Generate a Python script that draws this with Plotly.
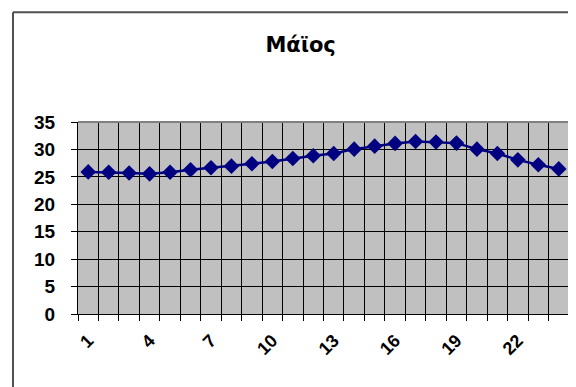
import plotly.graph_objects as go

days = [str(i) for i in range(1, 25)]
temps = [25.9, 25.85, 25.7, 25.55, 25.85, 26.3, 26.65, 26.95, 27.4, 27.8, 28.35, 28.85,
         29.25, 30.05, 30.6, 31.1, 31.45, 31.35, 31.15, 30.05, 29.25, 28.1, 27.2, 26.45]
shown_labels = ["1", "4", "7", "10", "13", "16", "19", "22"]
title_text = "Μάϊος"

ticktext = [d if d in shown_labels else "" for d in days]

fig = go.Figure()
fig.add_trace(go.Scatter(
    x=days, y=temps, mode="lines+markers",
    line=dict(color="#000080", width=2.5),
    marker=dict(symbol="diamond", size=12, color="#000080"),
    showlegend=False, cliponaxis=False,
))

fig.update_layout(
    width=576, height=387,
    margin=dict(l=70, r=15, t=114, b=81),
    paper_bgcolor="white",
    plot_bgcolor="#C0C0C0",
    title=dict(text="<b>" + title_text + "</b>", x=0.508, xanchor="center",
               y=0.905, yanchor="middle",
               font=dict(family="DejaVu Sans, Liberation Sans, Arial", size=21, color="black")),
    font=dict(family="Liberation Sans, Arial", color="black"),
)

fig.update_xaxes(
    type="category", tickson="boundaries",
    tickvals=days, ticktext=ticktext,
    tickangle=-45,
    tickfont=dict(size=18, family="Liberation Sans, Arial", weight="bold"),
    ticklabelstandoff=8,
    showgrid=True, gridcolor="black", gridwidth=1,
    ticks="outside", ticklen=6, tickcolor="black", tickwidth=1,
    showline=True, linecolor="black", linewidth=1,
    range=[-0.5, 23.5],
)
fig.update_yaxes(
    range=[0, 35], dtick=5, tick0=0,
    tickfont=dict(size=19, family="Liberation Sans, Arial", weight="bold"),
    ticklabelstandoff=12,
    showgrid=True, gridcolor="black", gridwidth=1,
    ticks="outside", ticklen=6, tickcolor="black", tickwidth=1,
    showline=True, linecolor="black", linewidth=1,
    zeroline=False,
)

# plot area border (top & right, gray)
fig.add_shape(type="line", xref="paper", yref="paper", x0=0, x1=1, y0=1, y1=1,
              line=dict(color="#808080", width=2), layer="above")
fig.add_shape(type="line", xref="paper", yref="paper", x0=1, x1=1, y0=0, y1=1,
              line=dict(color="#808080", width=2), layer="above")
# outer chart frame (left & top)
fig.add_shape(type="line", xref="paper", yref="paper", x0=-0.1324, x1=1.2, y0=1.571, y1=1.571,
              line=dict(color="#505050", width=2), layer="above")
fig.add_shape(type="line", xref="paper", yref="paper", x0=-0.1324, x1=-0.1324, y0=-0.6, y1=1.571,
              line=dict(color="#505050", width=2), layer="above")

fig.write_html("out.html")
